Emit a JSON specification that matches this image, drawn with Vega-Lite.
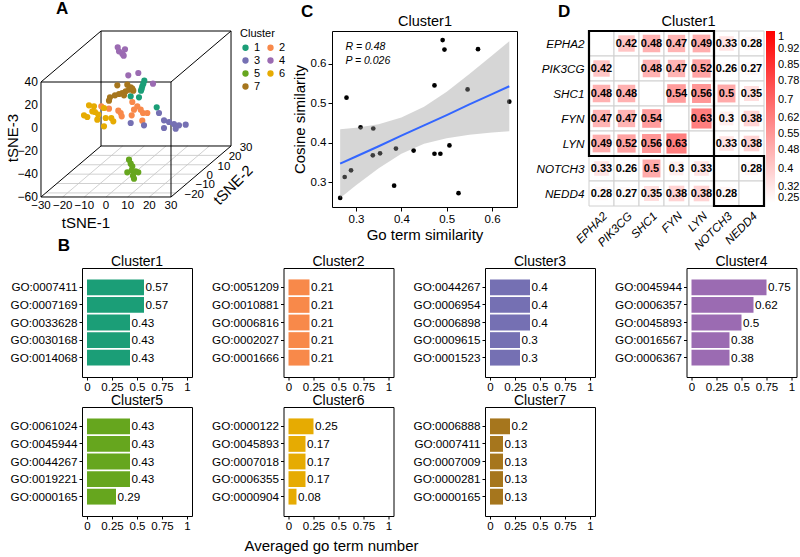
{
  "padding": {"left": 6, "top": 0, "right": 0, "bottom": 0},
  "background": "white",
  "datasets": {
    "tsne": [
      {"cluster": "4", "x": 5.40, "y": 70.17}, {"cluster": "4", "x": 8.77, "y": 68.43}, {"cluster": "4", "x": 6.00, "y": 66.70},
      {"cluster": "4", "x": 7.52, "y": 64.61}, {"cluster": "4", "x": 8.17, "y": 62.87}, {"cluster": "4", "x": 10.29, "y": 45.83},
      {"cluster": "4", "x": 14.91, "y": 47.83}, {"cluster": "4", "x": 21.69, "y": 38.52},
      {"cluster": "1", "x": 17.68, "y": 41.13}, {"cluster": "1", "x": 17.22, "y": 38.52}, {"cluster": "1", "x": 16.75, "y": 36.26},
      {"cluster": "1", "x": 16.48, "y": 34.17}, {"cluster": "1", "x": 16.15, "y": 32.43}, {"cluster": "1", "x": 11.40, "y": 27.57},
      {"cluster": "1", "x": 15.23, "y": 26.70}, {"cluster": "1", "x": 23.40, "y": 18.00},
      {"cluster": "7", "x": 5.22, "y": 37.13}, {"cluster": "7", "x": 9.83, "y": 37.65}, {"cluster": "7", "x": 11.40, "y": 35.39},
      {"cluster": "7", "x": 12.60, "y": 32.43}, {"cluster": "7", "x": 10.62, "y": 33.30}, {"cluster": "7", "x": 9.09, "y": 31.91},
      {"cluster": "7", "x": 7.52, "y": 30.43}, {"cluster": "7", "x": 6.00, "y": 29.57}, {"cluster": "7", "x": 4.15, "y": 28.43},
      {"cluster": "7", "x": 1.85, "y": 26.70}, {"cluster": "7", "x": 1.38, "y": 23.74}, {"cluster": "7", "x": 12.14, "y": 34.17},
      {"cluster": "7", "x": 8.31, "y": 28.43},
      {"cluster": "2", "x": -2.17, "y": 18.87}, {"cluster": "2", "x": 1.38, "y": 16.78}, {"cluster": "2", "x": 5.68, "y": 15.04},
      {"cluster": "2", "x": 7.25, "y": 10.17}, {"cluster": "2", "x": 6.78, "y": 13.04}, {"cluster": "2", "x": 12.14, "y": 22.61},
      {"cluster": "2", "x": 14.45, "y": 18.87}, {"cluster": "2", "x": 12.92, "y": 15.91}, {"cluster": "2", "x": 16.02, "y": 15.91},
      {"cluster": "2", "x": 17.08, "y": 13.04}, {"cluster": "2", "x": 19.06, "y": 13.04}, {"cluster": "2", "x": 11.86, "y": 11.04},
      {"cluster": "2", "x": 16.75, "y": 6.35},
      {"cluster": "6", "x": -7.85, "y": 19.74}, {"cluster": "6", "x": -5.54, "y": 18.87}, {"cluster": "6", "x": -10.15, "y": 11.04},
      {"cluster": "6", "x": -8.63, "y": 9.57}, {"cluster": "6", "x": -5.08, "y": 13.91}, {"cluster": "6", "x": -3.55, "y": 11.57},
      {"cluster": "6", "x": -0.92, "y": 17.39}, {"cluster": "6", "x": -4.02, "y": 7.22}, {"cluster": "6", "x": -0.14, "y": 8.70},
      {"cluster": "6", "x": 2.45, "y": 8.70}, {"cluster": "6", "x": 3.37, "y": 5.83}, {"cluster": "6", "x": -0.92, "y": 1.48},
      {"cluster": "6", "x": -6.32, "y": 14.52},
      {"cluster": "3", "x": 24.46, "y": 13.04}, {"cluster": "3", "x": 26.77, "y": 6.69}, {"cluster": "3", "x": 29.08, "y": 5.22},
      {"cluster": "3", "x": 31.38, "y": 3.48}, {"cluster": "3", "x": 33.69, "y": 2.35}, {"cluster": "3", "x": 36.78, "y": 2.87},
      {"cluster": "3", "x": 32.17, "y": -0.61}, {"cluster": "3", "x": 26.77, "y": 0.0}, {"cluster": "3", "x": 17.54, "y": 2.35},
      {"cluster": "3", "x": 11.40, "y": 4.35},
      {"cluster": "5", "x": 10.62, "y": -27.57}, {"cluster": "5", "x": 11.40, "y": -31.04}, {"cluster": "5", "x": 12.14, "y": -33.30},
      {"cluster": "5", "x": 9.83, "y": -38.52}, {"cluster": "5", "x": 11.86, "y": -36.78}, {"cluster": "5", "x": 13.71, "y": -37.65},
      {"cluster": "5", "x": 12.46, "y": -41.48}, {"cluster": "5", "x": 12.92, "y": -44.09}, {"cluster": "5", "x": 14.91, "y": -38.52}
    ],
    "box3d": [
      {"kind": "box", "x": -30, "y": 40, "x2": 30, "y2": 40},
      {"kind": "box", "x": -30, "y": -60, "x2": -30, "y2": 40},
      {"kind": "box", "x": 30, "y": -60, "x2": 30, "y2": 40},
      {"kind": "box", "x": -30, "y": -60, "x2": 30, "y2": -60},
      {"kind": "box", "x": -2.3, "y": 84.35, "x2": 57.7, "y2": 84.35},
      {"kind": "box", "x": -2.3, "y": -15.65, "x2": -2.3, "y2": 84.35},
      {"kind": "box", "x": 57.7, "y": -15.65, "x2": 57.7, "y2": 84.35},
      {"kind": "box", "x": -2.3, "y": -15.65, "x2": 57.7, "y2": -15.65},
      {"kind": "box", "x": -30, "y": 40, "x2": -2.3, "y2": 84.35},
      {"kind": "box", "x": 30, "y": 40, "x2": 57.7, "y2": 84.35},
      {"kind": "box", "x": -30, "y": -60, "x2": -2.3, "y2": -15.65},
      {"kind": "box", "x": 30, "y": -60, "x2": 57.7, "y2": -15.65},
      {"kind": "grid", "x": -20, "y": -60, "x2": 7.7, "y2": -15.65},
      {"kind": "grid", "x": -10, "y": -60, "x2": 17.7, "y2": -15.65},
      {"kind": "grid", "x": 0, "y": -60, "x2": 27.7, "y2": -15.65},
      {"kind": "grid", "x": 10, "y": -60, "x2": 37.7, "y2": -15.65},
      {"kind": "grid", "x": 20, "y": -60, "x2": 47.7, "y2": -15.65},
      {"kind": "grid", "x": -27.78, "y": -56.45, "x2": 32.22, "y2": -56.45},
      {"kind": "grid", "x": -22.69, "y": -48.29, "x2": 37.31, "y2": -48.29},
      {"kind": "grid", "x": -17.59, "y": -40.13, "x2": 42.41, "y2": -40.13},
      {"kind": "grid", "x": -12.49, "y": -31.97, "x2": 47.51, "y2": -31.97},
      {"kind": "grid", "x": -7.40, "y": -23.81, "x2": 52.60, "y2": -23.81}
    ],
    "ticks3d": [
      {"axis": "z", "x": -31.4, "y": 40, "text": "40"}, {"axis": "z", "x": -31.4, "y": 20, "text": "20"},
      {"axis": "z", "x": -31.4, "y": 0, "text": "0"}, {"axis": "z", "x": -31.4, "y": -20, "text": "−20"},
      {"axis": "z", "x": -31.4, "y": -40, "text": "−40"}, {"axis": "z", "x": -31.4, "y": -60, "text": "−60"},
      {"axis": "x", "x": -30, "y": -67.8, "text": "−30"}, {"axis": "x", "x": -20, "y": -67.8, "text": "−20"},
      {"axis": "x", "x": -10, "y": -67.8, "text": "−10"}, {"axis": "x", "x": 0, "y": -67.8, "text": "0"},
      {"axis": "x", "x": 10, "y": -67.8, "text": "10"}, {"axis": "x", "x": 20, "y": -67.8, "text": "20"},
      {"axis": "x", "x": 30, "y": -67.8, "text": "30"},
      {"axis": "y", "x": 36.22, "y": -58, "text": "−20"}, {"axis": "y", "x": 41.31, "y": -49.8, "text": "−10"},
      {"axis": "y", "x": 46.41, "y": -41.6, "text": "0"}, {"axis": "y", "x": 51.51, "y": -33.5, "text": "10"},
      {"axis": "y", "x": 56.60, "y": -25.3, "text": "20"}, {"axis": "y", "x": 61.70, "y": -17.2, "text": "30"}
    ],
    "titles3d": [
      {"axis": "z", "x": -42.9, "y": -8.7, "text": "tSNE-3"},
      {"axis": "x", "x": -9.23, "y": -82.6, "text": "tSNE-1"},
      {"axis": "y", "x": 58.62, "y": -49.57, "text": "tSNE-2"},
      {"axis": "p", "x": -19.38, "y": -102.6, "text": "B"}
    ],
    "pts": [
      {"x": 0.265, "y": 0.260}, {"x": 0.275, "y": 0.313}, {"x": 0.289, "y": 0.330}, {"x": 0.279, "y": 0.514},
      {"x": 0.310, "y": 0.439}, {"x": 0.338, "y": 0.436}, {"x": 0.337, "y": 0.368}, {"x": 0.353, "y": 0.373},
      {"x": 0.388, "y": 0.385}, {"x": 0.384, "y": 0.291}, {"x": 0.427, "y": 0.380}, {"x": 0.473, "y": 0.545},
      {"x": 0.473, "y": 0.372}, {"x": 0.486, "y": 0.372}, {"x": 0.491, "y": 0.660}, {"x": 0.495, "y": 0.636},
      {"x": 0.506, "y": 0.393}, {"x": 0.526, "y": 0.272}, {"x": 0.546, "y": 0.535}, {"x": 0.569, "y": 0.637},
      {"x": 0.638, "y": 0.504}
    ],
    "band": [
      {"x": 0.265, "lo": 0.260, "hi": 0.434, "fit": 0.347},
      {"x": 0.30, "lo": 0.292, "hi": 0.438, "fit": 0.365},
      {"x": 0.35, "lo": 0.335, "hi": 0.447, "fit": 0.391},
      {"x": 0.40, "lo": 0.372, "hi": 0.464, "fit": 0.418},
      {"x": 0.45, "lo": 0.397, "hi": 0.491, "fit": 0.444},
      {"x": 0.50, "lo": 0.411, "hi": 0.529, "fit": 0.470},
      {"x": 0.55, "lo": 0.420, "hi": 0.574, "fit": 0.497},
      {"x": 0.60, "lo": 0.426, "hi": 0.621, "fit": 0.523},
      {"x": 0.638, "lo": 0.429, "hi": 0.657, "fit": 0.543}
    ],
    "ann": [
      {"x": 0.2765, "y": 0.642, "text": "R = 0.48"},
      {"x": 0.2765, "y": 0.608, "text": "P = 0.026"}
    ],
    "corr": [
      {"r": "EPHA2", "c": "EPHA2", "v": null}, {"r": "EPHA2", "c": "PIK3CG", "v": 0.42}, {"r": "EPHA2", "c": "SHC1", "v": 0.48},
      {"r": "EPHA2", "c": "FYN", "v": 0.47}, {"r": "EPHA2", "c": "LYN", "v": 0.49}, {"r": "EPHA2", "c": "NOTCH3", "v": 0.33},
      {"r": "EPHA2", "c": "NEDD4", "v": 0.28},
      {"r": "PIK3CG", "c": "EPHA2", "v": 0.42}, {"r": "PIK3CG", "c": "PIK3CG", "v": null}, {"r": "PIK3CG", "c": "SHC1", "v": 0.48},
      {"r": "PIK3CG", "c": "FYN", "v": 0.47}, {"r": "PIK3CG", "c": "LYN", "v": 0.52}, {"r": "PIK3CG", "c": "NOTCH3", "v": 0.26},
      {"r": "PIK3CG", "c": "NEDD4", "v": 0.27},
      {"r": "SHC1", "c": "EPHA2", "v": 0.48}, {"r": "SHC1", "c": "PIK3CG", "v": 0.48}, {"r": "SHC1", "c": "SHC1", "v": null},
      {"r": "SHC1", "c": "FYN", "v": 0.54}, {"r": "SHC1", "c": "LYN", "v": 0.56}, {"r": "SHC1", "c": "NOTCH3", "v": 0.5},
      {"r": "SHC1", "c": "NEDD4", "v": 0.35},
      {"r": "FYN", "c": "EPHA2", "v": 0.47}, {"r": "FYN", "c": "PIK3CG", "v": 0.47}, {"r": "FYN", "c": "SHC1", "v": 0.54},
      {"r": "FYN", "c": "FYN", "v": null}, {"r": "FYN", "c": "LYN", "v": 0.63}, {"r": "FYN", "c": "NOTCH3", "v": 0.3},
      {"r": "FYN", "c": "NEDD4", "v": 0.38},
      {"r": "LYN", "c": "EPHA2", "v": 0.49}, {"r": "LYN", "c": "PIK3CG", "v": 0.52}, {"r": "LYN", "c": "SHC1", "v": 0.56},
      {"r": "LYN", "c": "FYN", "v": 0.63}, {"r": "LYN", "c": "LYN", "v": null}, {"r": "LYN", "c": "NOTCH3", "v": 0.33},
      {"r": "LYN", "c": "NEDD4", "v": 0.38},
      {"r": "NOTCH3", "c": "EPHA2", "v": 0.33}, {"r": "NOTCH3", "c": "PIK3CG", "v": 0.26}, {"r": "NOTCH3", "c": "SHC1", "v": 0.5},
      {"r": "NOTCH3", "c": "FYN", "v": 0.3}, {"r": "NOTCH3", "c": "LYN", "v": 0.33}, {"r": "NOTCH3", "c": "NOTCH3", "v": null},
      {"r": "NOTCH3", "c": "NEDD4", "v": 0.28},
      {"r": "NEDD4", "c": "EPHA2", "v": 0.28}, {"r": "NEDD4", "c": "PIK3CG", "v": 0.27}, {"r": "NEDD4", "c": "SHC1", "v": 0.35},
      {"r": "NEDD4", "c": "FYN", "v": 0.38}, {"r": "NEDD4", "c": "LYN", "v": 0.38}, {"r": "NEDD4", "c": "NOTCH3", "v": 0.28},
      {"r": "NEDD4", "c": "NEDD4", "v": null}
    ],
    "boxes": [
      {"c1": "EPHA2", "c2": "LYN", "r1": "EPHA2", "r2": "LYN"},
      {"c1": "NOTCH3", "c2": "NEDD4", "r1": "NOTCH3", "r2": "NEDD4"}
    ],
    "go": [
      {"cluster": "Cluster1", "term": "GO:0007411", "value": 0.57}, {"cluster": "Cluster1", "term": "GO:0007169", "value": 0.57},
      {"cluster": "Cluster1", "term": "GO:0033628", "value": 0.43}, {"cluster": "Cluster1", "term": "GO:0030168", "value": 0.43},
      {"cluster": "Cluster1", "term": "GO:0014068", "value": 0.43},
      {"cluster": "Cluster2", "term": "GO:0051209", "value": 0.21}, {"cluster": "Cluster2", "term": "GO:0010881", "value": 0.21},
      {"cluster": "Cluster2", "term": "GO:0006816", "value": 0.21}, {"cluster": "Cluster2", "term": "GO:0002027", "value": 0.21},
      {"cluster": "Cluster2", "term": "GO:0001666", "value": 0.21},
      {"cluster": "Cluster3", "term": "GO:0044267", "value": 0.4}, {"cluster": "Cluster3", "term": "GO:0006954", "value": 0.4},
      {"cluster": "Cluster3", "term": "GO:0006898", "value": 0.4}, {"cluster": "Cluster3", "term": "GO:0009615", "value": 0.3},
      {"cluster": "Cluster3", "term": "GO:0001523", "value": 0.3},
      {"cluster": "Cluster4", "term": "GO:0045944", "value": 0.75}, {"cluster": "Cluster4", "term": "GO:0006357", "value": 0.62},
      {"cluster": "Cluster4", "term": "GO:0045893", "value": 0.5}, {"cluster": "Cluster4", "term": "GO:0016567", "value": 0.38},
      {"cluster": "Cluster4", "term": "GO:0006367", "value": 0.38},
      {"cluster": "Cluster5", "term": "GO:0061024", "value": 0.43}, {"cluster": "Cluster5", "term": "GO:0045944", "value": 0.43},
      {"cluster": "Cluster5", "term": "GO:0044267", "value": 0.43}, {"cluster": "Cluster5", "term": "GO:0019221", "value": 0.43},
      {"cluster": "Cluster5", "term": "GO:0000165", "value": 0.29},
      {"cluster": "Cluster6", "term": "GO:0000122", "value": 0.25}, {"cluster": "Cluster6", "term": "GO:0045893", "value": 0.17},
      {"cluster": "Cluster6", "term": "GO:0007018", "value": 0.17}, {"cluster": "Cluster6", "term": "GO:0006355", "value": 0.17},
      {"cluster": "Cluster6", "term": "GO:0000904", "value": 0.08},
      {"cluster": "Cluster7", "term": "GO:0006888", "value": 0.2}, {"cluster": "Cluster7", "term": "GO:0007411", "value": 0.13},
      {"cluster": "Cluster7", "term": "GO:0007009", "value": 0.13}, {"cluster": "Cluster7", "term": "GO:0000281", "value": 0.13},
      {"cluster": "Cluster7", "term": "GO:0000165", "value": 0.13}
    ]
  },
  "vconcat": [
    {
      "hconcat": [
        {
          "width": 209, "height": 223,
          "view": {"stroke": null},
          "title": {"text": "A", "anchor": "start", "frame": "group", "dx": -26, "fontSize": 17, "fontWeight": "bold", "offset": 10},
          "layer": [
            {"data": {"name": "box3d"}, "transform": [{"filter": "datum.kind == 'grid'"}],
             "mark": {"type": "rule", "color": "#c4c4c4", "strokeWidth": 0.8},
             "encoding": {
               "x": {"field": "x", "type": "quantitative", "scale": {"domain": [-11.077, 85.38], "nice": false, "zero": false}, "axis": null},
               "y": {"field": "y", "type": "quantitative", "scale": {"domain": [-109.57, 84.35], "nice": false, "zero": false}, "axis": null},
               "x2": {"field": "x2"}, "y2": {"field": "y2"}}},
            {"data": {"name": "box3d"}, "transform": [{"filter": "datum.kind == 'box'"}],
             "mark": {"type": "rule", "color": "black", "strokeWidth": 1},
             "encoding": {
               "x": {"field": "x", "type": "quantitative", "axis": null},
               "y": {"field": "y", "type": "quantitative", "axis": null},
               "x2": {"field": "x2"}, "y2": {"field": "y2"}}},
            {"data": {"name": "tsne"},
             "mark": {"type": "circle", "size": 38, "opacity": 1},
             "encoding": {
               "x": {"field": "x", "type": "quantitative", "axis": null},
               "y": {"field": "y", "type": "quantitative", "axis": null},
               "color": {"field": "cluster", "type": "nominal",
                 "scale": {"domain": ["1", "2", "3", "4", "5", "6", "7"], "range": ["#1b9e77", "#f8894a", "#7570b3", "#9b6bb2", "#66a61e", "#e6ab02", "#a6761d"]},
                 "legend": {"title": "Cluster", "orient": "none", "legendX": 158, "legendY": -3, "direction": "horizontal", "columns": 2, "symbolSize": 40, "symbolType": "circle",
                   "labelFontSize": 11, "titleFontSize": 11, "titleFontWeight": "normal", "columnPadding": 4, "rowPadding": 1,
                   "labelOffset": 3, "titlePadding": 3, "padding": 0}}}},
            {"data": {"name": "ticks3d"}, "transform": [{"filter": "datum.axis == 'z'"}],
             "mark": {"type": "text", "align": "right", "baseline": "middle", "fontSize": 12},
             "encoding": {"x": {"field": "x", "type": "quantitative", "axis": null}, "y": {"field": "y", "type": "quantitative", "axis": null}, "text": {"field": "text", "type": "nominal"}}},
            {"data": {"name": "ticks3d"}, "transform": [{"filter": "datum.axis == 'x'"}],
             "mark": {"type": "text", "align": "center", "baseline": "middle", "fontSize": 11.5},
             "encoding": {"x": {"field": "x", "type": "quantitative", "axis": null}, "y": {"field": "y", "type": "quantitative", "axis": null}, "text": {"field": "text", "type": "nominal"}}},
            {"data": {"name": "ticks3d"}, "transform": [{"filter": "datum.axis == 'y'"}],
             "mark": {"type": "text", "align": "left", "baseline": "middle", "fontSize": 11.5},
             "encoding": {"x": {"field": "x", "type": "quantitative", "axis": null}, "y": {"field": "y", "type": "quantitative", "axis": null}, "text": {"field": "text", "type": "nominal"}}},
            {"data": {"name": "titles3d"}, "transform": [{"filter": "datum.axis == 'z'"}],
             "mark": {"type": "text", "align": "center", "baseline": "middle", "fontSize": 15, "angle": 270},
             "encoding": {"x": {"field": "x", "type": "quantitative", "axis": null}, "y": {"field": "y", "type": "quantitative", "axis": null}, "text": {"field": "text", "type": "nominal"}}},
            {"data": {"name": "titles3d"}, "transform": [{"filter": "datum.axis == 'x'"}],
             "mark": {"type": "text", "align": "center", "baseline": "middle", "fontSize": 15},
             "encoding": {"x": {"field": "x", "type": "quantitative", "axis": null}, "y": {"field": "y", "type": "quantitative", "axis": null}, "text": {"field": "text", "type": "nominal"}}},
            {"data": {"name": "titles3d"}, "transform": [{"filter": "datum.axis == 'y'"}],
             "mark": {"type": "text", "align": "center", "baseline": "middle", "fontSize": 15, "angle": 315},
             "encoding": {"x": {"field": "x", "type": "quantitative", "axis": null}, "y": {"field": "y", "type": "quantitative", "axis": null}, "text": {"field": "text", "type": "nominal"}}},
            {"data": {"name": "titles3d"}, "transform": [{"filter": "datum.axis == 'p'"}],
             "mark": {"type": "text", "align": "center", "baseline": "middle", "fontSize": 17, "fontWeight": "bold"},
             "encoding": {"x": {"field": "x", "type": "quantitative", "axis": null}, "y": {"field": "y", "type": "quantitative", "axis": null}, "text": {"field": "text", "type": "nominal"}}}
          ]
        },
        {
          "hconcat": [
            {
              "width": 185, "height": 176,
              "title": {"text": "C", "anchor": "start", "frame": "group", "dx": -31, "fontSize": 17, "fontWeight": "bold", "offset": -8},
              "layer": [
                {"data": {"name": "pts"},
                 "mark": {"type": "circle", "size": 22, "color": "black", "opacity": 1},
                 "encoding": {
                   "x": {"field": "x", "type": "quantitative", "scale": {"domain": [0.247, 0.655], "nice": false, "zero": false},
                         "axis": {"values": [0.3, 0.4, 0.5, 0.6], "format": ".1f", "title": "Go term similarity", "labelFontSize": 11.5, "titleFontSize": 15}},
                   "y": {"field": "y", "type": "quantitative", "scale": {"domain": [0.237, 0.683], "nice": false, "zero": false},
                         "axis": {"values": [0.3, 0.4, 0.5, 0.6], "format": ".1f", "title": "Cosine similarity", "labelFontSize": 11.5, "titleFontSize": 15}}}},
                {"data": {"name": "band"},
                 "mark": {"type": "area", "color": "#999999", "opacity": 0.4},
                 "encoding": {
                   "x": {"field": "x", "type": "quantitative", "axis": null},
                   "y": {"field": "lo", "type": "quantitative", "axis": {"values": [0.3, 0.4, 0.5, 0.6], "format": ".1f", "title": "Cosine similarity", "labelFontSize": 11.5, "titleFontSize": 15}},
                   "y2": {"field": "hi"}}},
                {"data": {"name": "band"},
                 "mark": {"type": "line", "color": "#3366ff", "strokeWidth": 2},
                 "encoding": {
                   "x": {"field": "x", "type": "quantitative", "axis": null},
                   "y": {"field": "fit", "type": "quantitative", "axis": {"values": [0.3, 0.4, 0.5, 0.6], "format": ".1f", "title": "Cosine similarity", "labelFontSize": 11.5, "titleFontSize": 15}}}},
                {"data": {"name": "ann"},
                 "mark": {"type": "text", "align": "left", "baseline": "middle", "fontSize": 10.5, "fontStyle": "italic"},
                 "encoding": {
                   "x": {"field": "x", "type": "quantitative",
                         "axis": {"orient": "top", "title": "Cluster1", "labels": false, "ticks": false, "domain": false, "titleFontSize": 14.5, "titlePadding": 3}},
                   "y": {"field": "y", "type": "quantitative", "axis": {"values": [0.3, 0.4, 0.5, 0.6], "format": ".1f", "title": "Cosine similarity", "labelFontSize": 11.5, "titleFontSize": 15}},
                   "text": {"field": "text", "type": "nominal"}}}
              ],
              "resolve": {"axis": {"x": "independent"}}
            },
            {
              "width": 175, "height": 175,
              "view": {"stroke": null},
              "title": {"text": "D", "anchor": "start", "frame": "group", "dx": -31, "fontSize": 17, "fontWeight": "bold", "offset": -8},
              "layer": [
                {"data": {"name": "corr"},
                 "mark": {"type": "rect", "fill": "white", "stroke": "#d0d0d0", "strokeWidth": 1},
                 "encoding": {
                   "x": {"field": "c", "type": "nominal",
                         "scale": {"domain": ["EPHA2", "PIK3CG", "SHC1", "FYN", "LYN", "NOTCH3", "NEDD4"], "paddingInner": 0, "paddingOuter": 0},
                         "axis": {"labelAngle": -45, "labelFontStyle": "italic", "labelFontSize": 11.7, "ticks": false, "domain": false, "title": null, "labelPadding": 4}},
                   "y": {"field": "r", "type": "nominal",
                         "scale": {"domain": ["EPHA2", "PIK3CG", "SHC1", "FYN", "LYN", "NOTCH3", "NEDD4"], "paddingInner": 0, "paddingOuter": 0},
                         "axis": {"labelFontStyle": "italic", "labelFontSize": 11.7, "ticks": false, "domain": false, "title": null, "labelPadding": 5}}}},
                {"data": {"name": "corr"}, "transform": [{"filter": "isValid(datum.v)"}],
                 "mark": {"type": "square", "opacity": 1},
                 "encoding": {
                   "x": {"field": "c", "type": "nominal", "axis": null},
                   "y": {"field": "r", "type": "nominal", "axis": {"labelFontStyle": "italic", "labelFontSize": 11.7, "ticks": false, "domain": false, "title": null, "labelPadding": 5}},
                   "size": {"field": "v", "type": "quantitative", "scale": {"domain": [0, 1], "range": [0, 640]}, "legend": null},
                   "color": {"field": "v", "type": "quantitative", "scale": {"domain": [0.25, 1], "range": ["#ffffff", "#ff0000"], "interpolate": "rgb", "clamp": true},
                     "legend": {"title": null, "values": [0.25, 0.32, 0.4, 0.48, 0.55, 0.62, 0.7, 0.78, 0.85, 0.92, 1], "format": ".2~f",
                       "gradientLength": 172, "gradientThickness": 9, "offset": 2, "labelFontSize": 11, "direction": "vertical", "orient": "right", "labelOffset": 3}}}},
                {"data": {"name": "corr"}, "transform": [{"filter": "isValid(datum.v)"}],
                 "mark": {"type": "text", "fontSize": 11, "fontWeight": "bold", "color": "black"},
                 "encoding": {
                   "x": {"field": "c", "type": "nominal",
                         "axis": {"orient": "top", "title": "Cluster1", "labels": false, "ticks": false, "domain": false, "titleFontSize": 14.5, "titlePadding": 3, "titleX": 99}},
                   "y": {"field": "r", "type": "nominal", "axis": {"labelFontStyle": "italic", "labelFontSize": 11.7, "ticks": false, "domain": false, "title": null, "labelPadding": 5}},
                   "text": {"field": "v", "type": "nominal"}}},
                {"data": {"name": "boxes"},
                 "mark": {"type": "rect", "fill": "white", "fillOpacity": 0, "stroke": "black", "strokeWidth": 2.2},
                 "encoding": {
                   "x": {"field": "c1", "type": "nominal", "bandPosition": 0, "axis": null},
                   "x2": {"field": "c2", "bandPosition": 1},
                   "y": {"field": "r1", "type": "nominal", "bandPosition": 0, "axis": {"labelFontStyle": "italic", "labelFontSize": 11.7, "ticks": false, "domain": false, "title": null, "labelPadding": 5}},
                   "y2": {"field": "r2", "bandPosition": 1}}}
              ],
              "resolve": {"axis": {"x": "independent"}}
            }
          ],
          "spacing": 17,
          "resolve": {"scale": {"color": "independent", "size": "independent"}}
        }
      ],
      "spacing": 0,
      "resolve": {"scale": {"color": "independent", "size": "independent"}}
    },
    {
      "hconcat": [
        {"width": 110, "height": 109, "title": {"text": "Cluster1", "fontSize": 14, "offset": -1}, "data": {"name": "go"},
         "transform": [{"filter": "datum.cluster == 'Cluster1'"}],
         "layer": [
           {"mark": {"type": "bar", "color": "#1b9e77"},
            "encoding": {"y": {"field": "term", "type": "nominal", "sort": null, "scale": {"paddingInner": 0.1, "paddingOuter": 0.65}, "axis": {"title": null, "labelFontSize": 11.7, "tickSize": 3}},
              "x": {"field": "value", "type": "quantitative", "scale": {"domain": [-0.05, 1.05], "nice": false, "zero": false}, "axis": {"values": [0, 0.25, 0.5, 0.75, 1], "format": ".2~f", "title": null, "labelFontSize": 11.5, "labelOverlap": false, "tickSize": 3, "labelPadding": 1}},
              "x2": {"datum": 0}}},
           {"mark": {"type": "text", "align": "left", "baseline": "middle", "dx": 1.5, "fontSize": 11.7},
            "encoding": {"y": {"field": "term", "type": "nominal", "sort": null, "axis": {"title": null, "labelFontSize": 11.7, "tickSize": 3}},
              "x": {"field": "value", "type": "quantitative", "axis": {"values": [0, 0.25, 0.5, 0.75, 1], "format": ".2~f", "title": null, "labelFontSize": 11.5, "labelOverlap": false, "tickSize": 3, "labelPadding": 1}},
              "text": {"field": "value", "type": "nominal"}}}
         ]},
        {"width": 110, "height": 109, "title": {"text": "Cluster2", "fontSize": 14, "offset": -1}, "data": {"name": "go"},
         "transform": [{"filter": "datum.cluster == 'Cluster2'"}],
         "layer": [
           {"mark": {"type": "bar", "color": "#f8894a"},
            "encoding": {"y": {"field": "term", "type": "nominal", "sort": null, "scale": {"paddingInner": 0.1, "paddingOuter": 0.65}, "axis": {"title": null, "labelFontSize": 11.7, "tickSize": 3}},
              "x": {"field": "value", "type": "quantitative", "scale": {"domain": [-0.05, 1.05], "nice": false, "zero": false}, "axis": {"values": [0, 0.25, 0.5, 0.75, 1], "format": ".2~f", "title": null, "labelFontSize": 11.5, "labelOverlap": false, "tickSize": 3, "labelPadding": 1}},
              "x2": {"datum": 0}}},
           {"mark": {"type": "text", "align": "left", "baseline": "middle", "dx": 1.5, "fontSize": 11.7},
            "encoding": {"y": {"field": "term", "type": "nominal", "sort": null, "axis": {"title": null, "labelFontSize": 11.7, "tickSize": 3}},
              "x": {"field": "value", "type": "quantitative", "axis": {"values": [0, 0.25, 0.5, 0.75, 1], "format": ".2~f", "title": null, "labelFontSize": 11.5, "labelOverlap": false, "tickSize": 3, "labelPadding": 1}},
              "text": {"field": "value", "type": "nominal"}}}
         ]},
        {"width": 110, "height": 109, "title": {"text": "Cluster3", "fontSize": 14, "offset": -1}, "data": {"name": "go"},
         "transform": [{"filter": "datum.cluster == 'Cluster3'"}],
         "layer": [
           {"mark": {"type": "bar", "color": "#7570b3"},
            "encoding": {"y": {"field": "term", "type": "nominal", "sort": null, "scale": {"paddingInner": 0.1, "paddingOuter": 0.65}, "axis": {"title": null, "labelFontSize": 11.7, "tickSize": 3}},
              "x": {"field": "value", "type": "quantitative", "scale": {"domain": [-0.05, 1.05], "nice": false, "zero": false}, "axis": {"values": [0, 0.25, 0.5, 0.75, 1], "format": ".2~f", "title": null, "labelFontSize": 11.5, "labelOverlap": false, "tickSize": 3, "labelPadding": 1}},
              "x2": {"datum": 0}}},
           {"mark": {"type": "text", "align": "left", "baseline": "middle", "dx": 1.5, "fontSize": 11.7},
            "encoding": {"y": {"field": "term", "type": "nominal", "sort": null, "axis": {"title": null, "labelFontSize": 11.7, "tickSize": 3}},
              "x": {"field": "value", "type": "quantitative", "axis": {"values": [0, 0.25, 0.5, 0.75, 1], "format": ".2~f", "title": null, "labelFontSize": 11.5, "labelOverlap": false, "tickSize": 3, "labelPadding": 1}},
              "text": {"field": "value", "type": "nominal"}}}
         ]},
        {"width": 110, "height": 109, "title": {"text": "Cluster4", "fontSize": 14, "offset": -1}, "data": {"name": "go"},
         "transform": [{"filter": "datum.cluster == 'Cluster4'"}],
         "layer": [
           {"mark": {"type": "bar", "color": "#9b6bb2"},
            "encoding": {"y": {"field": "term", "type": "nominal", "sort": null, "scale": {"paddingInner": 0.1, "paddingOuter": 0.65}, "axis": {"title": null, "labelFontSize": 11.7, "tickSize": 3}},
              "x": {"field": "value", "type": "quantitative", "scale": {"domain": [-0.05, 1.05], "nice": false, "zero": false}, "axis": {"values": [0, 0.25, 0.5, 0.75, 1], "format": ".2~f", "title": null, "labelFontSize": 11.5, "labelOverlap": false, "tickSize": 3, "labelPadding": 1}},
              "x2": {"datum": 0}}},
           {"mark": {"type": "text", "align": "left", "baseline": "middle", "dx": 1.5, "fontSize": 11.7},
            "encoding": {"y": {"field": "term", "type": "nominal", "sort": null, "axis": {"title": null, "labelFontSize": 11.7, "tickSize": 3}},
              "x": {"field": "value", "type": "quantitative", "axis": {"values": [0, 0.25, 0.5, 0.75, 1], "format": ".2~f", "title": null, "labelFontSize": 11.5, "labelOverlap": false, "tickSize": 3, "labelPadding": 1}},
              "text": {"field": "value", "type": "nominal"}}}
         ]}
      ],
      "spacing": 17.5
    },
    {
      "title": {"text": "Averaged go term number", "orient": "bottom", "anchor": "middle", "dx": 29, "fontSize": 15, "fontWeight": "normal", "offset": 7},
      "hconcat": [
        {"width": 110, "height": 109, "title": {"text": "Cluster5", "fontSize": 14, "offset": -1}, "data": {"name": "go"},
         "transform": [{"filter": "datum.cluster == 'Cluster5'"}],
         "layer": [
           {"mark": {"type": "bar", "color": "#66a61e"},
            "encoding": {"y": {"field": "term", "type": "nominal", "sort": null, "scale": {"paddingInner": 0.1, "paddingOuter": 0.65}, "axis": {"title": null, "labelFontSize": 11.7, "tickSize": 3}},
              "x": {"field": "value", "type": "quantitative", "scale": {"domain": [-0.05, 1.05], "nice": false, "zero": false}, "axis": {"values": [0, 0.25, 0.5, 0.75, 1], "format": ".2~f", "title": null, "labelFontSize": 11.5, "labelOverlap": false, "tickSize": 3, "labelPadding": 1}},
              "x2": {"datum": 0}}},
           {"mark": {"type": "text", "align": "left", "baseline": "middle", "dx": 1.5, "fontSize": 11.7},
            "encoding": {"y": {"field": "term", "type": "nominal", "sort": null, "axis": {"title": null, "labelFontSize": 11.7, "tickSize": 3}},
              "x": {"field": "value", "type": "quantitative", "axis": {"values": [0, 0.25, 0.5, 0.75, 1], "format": ".2~f", "title": null, "labelFontSize": 11.5, "labelOverlap": false, "tickSize": 3, "labelPadding": 1}},
              "text": {"field": "value", "type": "nominal"}}}
         ]},
        {"width": 110, "height": 109, "title": {"text": "Cluster6", "fontSize": 14, "offset": -1}, "data": {"name": "go"},
         "transform": [{"filter": "datum.cluster == 'Cluster6'"}],
         "layer": [
           {"mark": {"type": "bar", "color": "#e6ab02"},
            "encoding": {"y": {"field": "term", "type": "nominal", "sort": null, "scale": {"paddingInner": 0.1, "paddingOuter": 0.65}, "axis": {"title": null, "labelFontSize": 11.7, "tickSize": 3}},
              "x": {"field": "value", "type": "quantitative", "scale": {"domain": [-0.05, 1.05], "nice": false, "zero": false}, "axis": {"values": [0, 0.25, 0.5, 0.75, 1], "format": ".2~f", "title": null, "labelFontSize": 11.5, "labelOverlap": false, "tickSize": 3, "labelPadding": 1}},
              "x2": {"datum": 0}}},
           {"mark": {"type": "text", "align": "left", "baseline": "middle", "dx": 1.5, "fontSize": 11.7},
            "encoding": {"y": {"field": "term", "type": "nominal", "sort": null, "axis": {"title": null, "labelFontSize": 11.7, "tickSize": 3}},
              "x": {"field": "value", "type": "quantitative", "axis": {"values": [0, 0.25, 0.5, 0.75, 1], "format": ".2~f", "title": null, "labelFontSize": 11.5, "labelOverlap": false, "tickSize": 3, "labelPadding": 1}},
              "text": {"field": "value", "type": "nominal"}}}
         ]},
        {"width": 110, "height": 109, "title": {"text": "Cluster7", "fontSize": 14, "offset": -1}, "data": {"name": "go"},
         "transform": [{"filter": "datum.cluster == 'Cluster7'"}],
         "layer": [
           {"mark": {"type": "bar", "color": "#a6761d"},
            "encoding": {"y": {"field": "term", "type": "nominal", "sort": null, "scale": {"paddingInner": 0.1, "paddingOuter": 0.65}, "axis": {"title": null, "labelFontSize": 11.7, "tickSize": 3}},
              "x": {"field": "value", "type": "quantitative", "scale": {"domain": [-0.05, 1.05], "nice": false, "zero": false}, "axis": {"values": [0, 0.25, 0.5, 0.75, 1], "format": ".2~f", "title": null, "labelFontSize": 11.5, "labelOverlap": false, "tickSize": 3, "labelPadding": 1}},
              "x2": {"datum": 0}}},
           {"mark": {"type": "text", "align": "left", "baseline": "middle", "dx": 1.5, "fontSize": 11.7},
            "encoding": {"y": {"field": "term", "type": "nominal", "sort": null, "axis": {"title": null, "labelFontSize": 11.7, "tickSize": 3}},
              "x": {"field": "value", "type": "quantitative", "axis": {"values": [0, 0.25, 0.5, 0.75, 1], "format": ".2~f", "title": null, "labelFontSize": 11.5, "labelOverlap": false, "tickSize": 3, "labelPadding": 1}},
              "text": {"field": "value", "type": "nominal"}}}
         ]}
      ],
      "spacing": 17.5
    }
  ],
  "spacing": 0,
  "resolve": {"scale": {"color": "independent", "size": "independent"}},
  "config": {
    "font": "Liberation Sans",
    "view": {"stroke": "black", "strokeWidth": 1},
    "axis": {"labelColor": "black", "titleColor": "black", "tickColor": "black", "domain": false, "grid": false,
             "labelFontSize": 12, "titleFontSize": 15, "titleFontWeight": "normal", "tickSize": 4, "labelPadding": 2, "titlePadding": 3},
    "title": {"fontSize": 15, "fontWeight": "normal", "color": "black", "offset": 3},
    "legend": {"labelColor": "black", "titleColor": "black"}
  }
}
